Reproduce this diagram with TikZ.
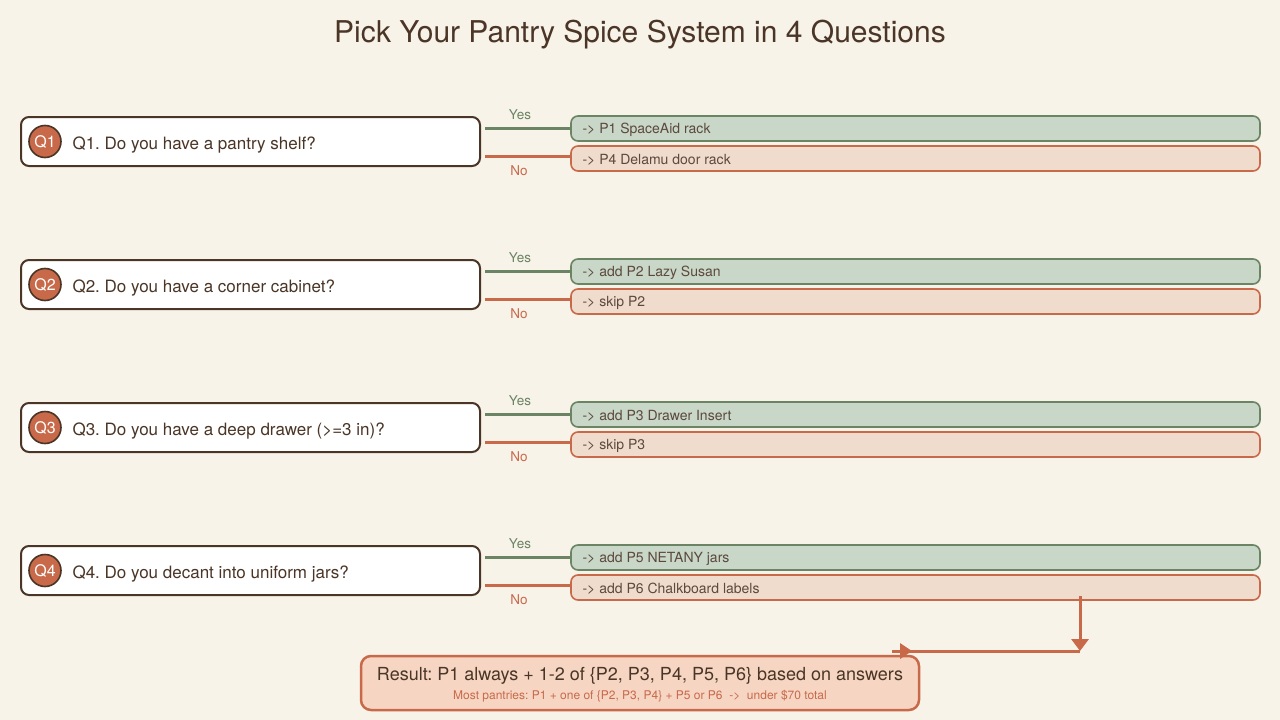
\documentclass[tikz,border=0pt]{standalone}
\usepackage{fontspec}
\setmainfont{TeX Gyre Heros}
\usetikzlibrary{arrows.meta,calc}
\frenchspacing

\definecolor{paper}{HTML}{F8F3E9}
\definecolor{ink}{HTML}{4A3526}
\definecolor{sage}{HTML}{6B8464}
\definecolor{sagefill}{HTML}{C8D7C8}
\definecolor{rust}{HTML}{C8694A}
\definecolor{rustfill}{HTML}{EFDCCD}
\definecolor{resultfill}{HTML}{F6D6C3}

\begin{document}
\begin{tikzpicture}[x=1pt,y=-1pt,
	qbox/.style={draw=ink, line width=2pt, fill=white, rounded corners=8pt,
		minimum width=459pt, minimum height=49pt, inner sep=0pt},
	qbadge/.style={circle, draw=ink, line width=1.6pt, fill=rust, text=white,
		minimum size=32pt, inner sep=0pt, font=\fontsize{16}{18}\selectfont},
	qtext/.style={anchor=west, text=ink, font=\fontsize{17}{20}\selectfont},
	yesbox/.style={draw=sage, line width=1.6pt, fill=sagefill, rounded corners=7pt,
		minimum width=689pt, minimum height=25pt, inner sep=0pt},
	nobox/.style={draw=rust, line width=1.6pt, fill=rustfill, rounded corners=7pt,
		minimum width=689pt, minimum height=25pt, inner sep=0pt},
	atext/.style={anchor=west, text=ink!90, font=\fontsize{14}{16}\selectfont},
	yesline/.style={draw=sage, line width=3pt},
	noline/.style={draw=rust, line width=3pt},
	flow/.style={draw=rust, line width=3pt},
]

	\newcommand*{\rowTop}{141.5}%
	\newcommand*{\rowGap}{143}%

	\useasboundingbox[fill=paper] (0,0) rectangle (1280,720);

	\node[text=ink, font=\fontsize{30}{34}\selectfont] (title) at (640,35)
		{Pick Your Pantry Spice System in 4 Questions};

	\foreach \i/\q/\yes/\no in {
		1/{Do you have a pantry shelf?}/{-> P1 SpaceAid rack}/{-> P4 Delamu door rack},
		2/{Do you have a corner cabinet?}/{-> add P2 Lazy Susan}/{-> skip P2},
		3/{Do you have a deep drawer (>=3 in)?}/{-> add P3 Drawer Insert}/{-> skip P3},
		4/{Do you decant into uniform jars?}/{-> add P5 NETANY jars}/{-> add P6 Chalkboard labels}}{
		\pgfmathsetmacro{\yc}{\rowTop+\rowGap*(\i-1)}
		\node[qbox] (q\i) at (250.5,\yc) {};
		\node[qbadge] (b\i) at (45,\yc) {Q\i};
		\node[qtext] (t\i) at (69,\yc+3.5) {Q\i. \q};
		\node[yesbox] (y\i) at (915.5,\yc-13) {};
		\node[nobox] (n\i) at (915.5,\yc+17) {};
		\node[atext] (ya\i) at (579,\yc-11.5) {\yes};
		\node[atext] (na\i) at (579,\yc+18.5) {\no};
		\draw[yesline] ($(q\i.east |- y\i.west)+(4,0)$) -- (y\i.west);
		\draw[noline] ($(q\i.east |- n\i.west)+(4,-2.5)$) -- ($(n\i.west)+(0,-2.5)$);
		\node[text=sage, font=\fontsize{13.5}{15}\selectfont] (yl\i) at (520,\yc-27) {Yes};
		\node[text=rust, font=\fontsize{13.5}{15}\selectfont] (nl\i) at (519,\yc+29) {No};
	}

	% result
	\node[draw=rust, line width=2.5pt, fill=resultfill, rounded corners=10pt,
		minimum width=558pt, minimum height=54pt] (res) at (640,683) {};
	\node[text=ink, font=\fontsize{18}{21}\selectfont] (restext) at (640,675.5)
		{Result: P1 always + 1-2 of \{P2, P3, P4, P5, P6\} based on answers};
	\node[text=rust, font=\fontsize{12}{14}\selectfont] (resnote) at (640,696)
		{Most pantries: P1 + one of \{P2, P3, P4\} + P5 or P6 \ -> \ under \$70 total};

	\coordinate (turn) at (1080,651);
	\coordinate (back) at (892,651);
	\draw[flow, -{Triangle[width=17pt,length=12pt]}] ($(n4.south -| turn)+(0,-5)$) -- (turn);
	\draw[flow] (turn) -- (back);
	\fill[rust] (900,643) -- (912,651) -- (900,659) -- cycle;

\end{tikzpicture}
\end{document}
